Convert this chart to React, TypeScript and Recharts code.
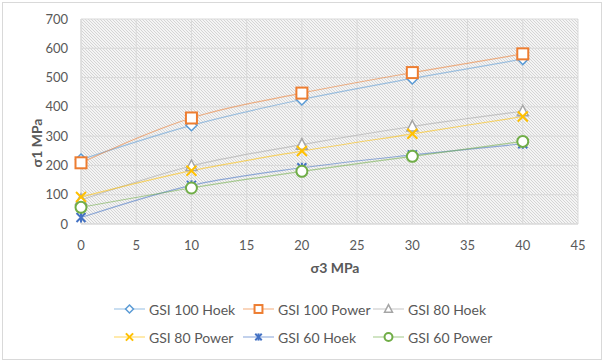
import React from 'react';
import { LineChart, Line, XAxis, YAxis, CartesianGrid } from 'recharts';

const sigma3 = [0, 10, 20, 30, 40];
const gsi100Hoek = [220, 337, 425, 497, 563];
const gsi100Power = [209, 362, 447, 517, 581];
const gsi80Hoek = [82, 198, 271, 333, 385];
const gsi80Power = [92, 182, 249, 308, 367];
const gsi60Hoek = [22, 132, 192, 236, 274];
const gsi60Power = [57, 123, 180, 231, 282];

const xTicks = [0, 5, 10, 15, 20, 25, 30, 35, 40, 45];
const yTicks = [0, 100, 200, 300, 400, 500, 600, 700];

const FONT = 'Lato, "Liberation Sans", sans-serif';
const TEXT = '#595959';
const GRID = '#D9D9D9';

type Shape = 'diamond' | 'square' | 'triangle' | 'x' | 'star' | 'circle';

const seriesList: { key: string; name: string; color: string; shape: Shape; values: number[] }[] = [
  { key: 'h100', name: 'GSI 100 Hoek', color: '#5B9BD5', shape: 'diamond', values: gsi100Hoek },
  { key: 'p100', name: 'GSI 100 Power', color: '#ED7D31', shape: 'square', values: gsi100Power },
  { key: 'h80', name: 'GSI 80 Hoek', color: '#A5A5A5', shape: 'triangle', values: gsi80Hoek },
  { key: 'p80', name: 'GSI 80 Power', color: '#FFC000', shape: 'x', values: gsi80Power },
  { key: 'h60', name: 'GSI 60 Hoek', color: '#4472C4', shape: 'star', values: gsi60Hoek },
  { key: 'p60', name: 'GSI 60 Power', color: '#70AD47', shape: 'circle', values: gsi60Power },
];

const chartData = sigma3.map((s, i) => {
  const row: any = { s3: s };
  seriesList.forEach(sr => { row[sr.key] = sr.values[i]; });
  return row;
});

const Marker = ({ cx, cy, shape, color, s = 1 }: { cx: number; cy: number; shape: Shape; color: string; s?: number }) => {
  const r = 5.5 * s;
  switch (shape) {
    case 'diamond':
      return <polygon points={`${cx},${cy - r} ${cx + r},${cy} ${cx},${cy + r} ${cx - r},${cy}`} fill="#fff" stroke={color} strokeWidth={1.5} />;
    case 'square':
      return <rect x={cx - r} y={cy - r} width={2 * r} height={2 * r} fill="#fff" stroke={color} strokeWidth={2} />;
    case 'triangle':
      return <polygon points={`${cx},${cy - 6 * s} ${cx + r},${cy + 4.5 * s} ${cx - r},${cy + 4.5 * s}`} fill="#fff" stroke={color} strokeWidth={1.5} />;
    case 'x':
      return (
        <g stroke={color} strokeWidth={2}>
          <line x1={cx - 5 * s} y1={cy - 5 * s} x2={cx + 5 * s} y2={cy + 5 * s} />
          <line x1={cx - 5 * s} y1={cy + 5 * s} x2={cx + 5 * s} y2={cy - 5 * s} />
        </g>
      );
    case 'star':
      return (
        <g stroke={color} strokeWidth={2}>
          <line x1={cx - 4.5 * s} y1={cy - 4.5 * s} x2={cx + 4.5 * s} y2={cy + 4.5 * s} />
          <line x1={cx - 4.5 * s} y1={cy + 4.5 * s} x2={cx + 4.5 * s} y2={cy - 4.5 * s} />
          <line x1={cx} y1={cy - 5 * s} x2={cx} y2={cy + 5 * s} />
        </g>
      );
    default:
      return <circle cx={cx} cy={cy} r={r} fill="#fff" stroke={color} strokeWidth={2} />;
  }
};

// legend column starts (line start)
const legendCols = [114, 243, 373];

const App = () => {
  return (
    <div style={{ position: 'absolute', left: 0, top: 0, width: 607, height: 363, background: '#fff', fontFamily: FONT }}>
      <div style={{ position: 'absolute', left: 2, top: 2, width: 598, height: 356, border: `1px solid ${GRID}` }} />
      <LineChart
        width={607}
        height={363}
        data={chartData}
        margin={{ top: 19, right: 29, left: 0, bottom: 109 }}
        style={{ position: 'absolute', left: 0, top: 0 }}
      >
        <defs>
          <pattern id="hatch" patternUnits="userSpaceOnUse" width="3" height="3">
            <rect width="3" height="3" fill="#F4F4F4" />
            <path d="M-1,2 l2,2 M0,0 l3,3 M2,-1 l2,2" stroke="#CCCCCC" strokeWidth={0.8} />
          </pattern>
        </defs>
        <CartesianGrid stroke={GRID} fill="url(#hatch)" fillOpacity={1} />
        <XAxis
          dataKey="s3"
          type="number"
          domain={[0, 45]}
          ticks={xTicks}
          height={30}
          tickLine={false}
          axisLine={{ stroke: GRID }}
          tickMargin={11}
          tick={{ fill: TEXT, fontSize: 13, fontFamily: FONT }}
        />
        <YAxis
          type="number"
          domain={[0, 700]}
          ticks={yTicks}
          width={81}
          tickLine={false}
          axisLine={{ stroke: GRID }}
          tickMargin={7}
          tick={{ fill: TEXT, fontSize: 13, fontFamily: FONT }}
        />
        {seriesList.map(sr => (
          <Line
            key={sr.key}
            type="monotone"
            dataKey={sr.key}
            name={sr.name}
            stroke={sr.color}
            strokeOpacity={0.55}
            strokeWidth={1.2}
            isAnimationActive={false}
            activeDot={false}
            dot={(p: any) => <Marker key={`${sr.key}-${p.index}`} cx={p.cx} cy={p.cy} shape={sr.shape} color={sr.color} />}
          />
        ))}
      </LineChart>
      <div style={{ position: 'absolute', left: 335, top: 267, transform: 'translate(-50%, -50%)', fontSize: 14, fontWeight: 'bold', color: TEXT, whiteSpace: 'nowrap' }}>
        σ3 MPa
      </div>
      <div
        style={{
          position: 'absolute', left: 36, top: 143, fontSize: 14, fontWeight: 'bold', color: TEXT,
          transform: 'translate(-50%, -50%) rotate(-90deg)', whiteSpace: 'nowrap',
        }}
      >
        σ1 MPa
      </div>
      {seriesList.map((sr, i) => {
        const left = legendCols[i % 3];
        const top = i < 3 ? 309 : 337;
        return (
          <div key={sr.key} style={{ position: 'absolute', left, top: top - 10, height: 20, display: 'flex', alignItems: 'center', fontSize: 14, color: TEXT, whiteSpace: 'nowrap' }}>
            <svg width={31} height={20} style={{ marginRight: 4 }}>
              <line x1={0} y1={10} x2={31} y2={10} stroke={sr.color} strokeOpacity={0.55} strokeWidth={1.2} />
              <Marker cx={15.5} cy={10} shape={sr.shape} color={sr.color} s={0.72} />
            </svg>
            <span>{sr.name}</span>
          </div>
        );
      })}
    </div>
  );
};

export default App;
